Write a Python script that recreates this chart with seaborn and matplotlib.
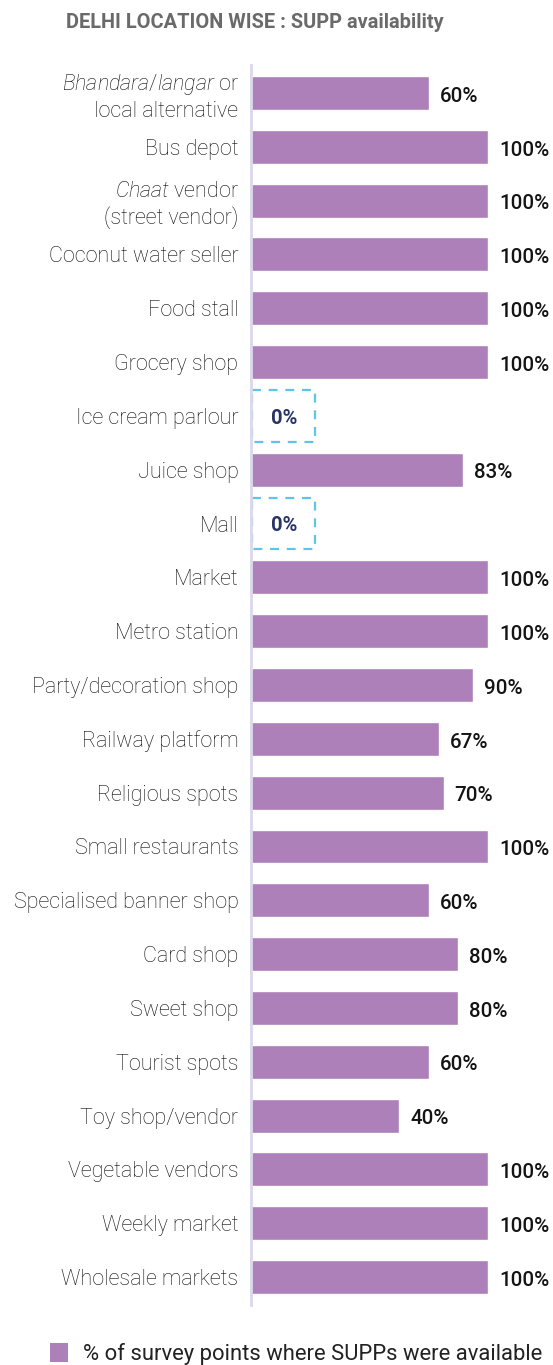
import matplotlib
matplotlib.use("Agg")
import matplotlib.pyplot as plt
from matplotlib.patches import Rectangle, Patch
import seaborn as sns
import pandas as pd

categories = [
    r"$\mathit{Bhandara/langar}$ or" + "\nlocal alternative",
    "Bus depot",
    r"$\mathit{Chaat}$ vendor" + "\n(street vendor)",
    "Coconut water seller",
    "Food stall",
    "Grocery shop",
    "Ice cream parlour",
    "Juice shop",
    "Mall",
    "Market",
    "Metro station",
    "Party/decoration shop",
    "Railway platform",
    "Religious spots",
    "Small restaurants",
    "Specialised banner shop",
    "Card shop",
    "Sweet shop",
    "Tourist spots",
    "Toy shop/vendor",
    "Vegetable vendors",
    "Weekly market",
    "Wholesale markets",
]
availability = [60, 100, 100, 100, 100, 100, 0, 83, 0, 100, 100, 90, 67, 70,
                100, 60, 80, 80, 60, 40, 100, 100, 100]

title = "DELHI LOCATION WISE : SUPP availability"
legend_label = "% of survey points where SUPPs were available"

BAR_COLOR = "#ad80b9"
BOX_COLOR = "#5ec5e8"
BASELINE = -60  # value scale begins left of zero

sns.set_theme(style="white")
plt.rcParams["font.family"] = ["Roboto", "DejaVu Sans"]
plt.rcParams["mathtext.fontset"] = "custom"
plt.rcParams["mathtext.rm"] = "Roboto:light"
plt.rcParams["mathtext.it"] = "Roboto:light:italic"

df = pd.DataFrame({"location": categories, "value": availability})
df["span"] = [v - BASELINE if v > 0 else 0 for v in df["value"]]

W, H = 553, 1365
fig = plt.figure(figsize=(W / 100, H / 100), dpi=100)
ax = fig.add_axes([251 / W, 1 - 1305 / H, (W - 251) / W, (1305 - 65) / H])

sns.barplot(data=df, x="span", y="location", orient="h", color=BAR_COLOR,
            saturation=1, width=0.63, ax=ax)

x_max = (W - 251) / ((488 - 251) / (100 - BASELINE))
ax.set_xlim(0, x_max)
ax.set_ylim(len(categories) - 0.48, -0.52)

for i, v in enumerate(df["value"]):
    if v > 0:
        ax.text(v - BASELINE + 7.5, i + 0.06, f"{v}%", va="center", ha="left",
                fontsize=14.8, fontweight="medium", color="#141414")
    else:
        ax.add_patch(Rectangle((0.8, i - 0.48), 42.5, 0.96, fill=False,
                               edgecolor=BOX_COLOR, linewidth=1.6,
                               linestyle=(0, (4, 3.5)), clip_on=False))
        ax.text(22.5, i + 0.04, f"{v}%", va="center", ha="center",
                fontsize=14.5, fontweight="bold", color="#283366")

ax.set_xlabel("")
ax.set_ylabel("")
ax.set_xticks([])
ax.tick_params(axis="y", length=0, pad=9, labelsize=15.5, labelcolor="#0c0c0c")
for lbl in ax.get_yticklabels():
    lbl.set_fontweight("light")
    lbl.set_horizontalalignment("right")
    lbl.set_multialignment("right")
for side in ["top", "right", "bottom"]:
    ax.spines[side].set_visible(False)
ax.spines["left"].set_color("#dcd7ec")
ax.spines["left"].set_linewidth(2)

fig.text(255 / W, 1 - 22 / H, title, ha="center", va="center",
         fontsize=14.4, fontweight="bold", color="#6a6a6a")

fig.legend(handles=[Patch(facecolor=BAR_COLOR, edgecolor="none")],
           labels=[legend_label], loc="center left",
           bbox_to_anchor=(30 / W, 1 - 1354 / H), frameon=False,
           handlelength=0.85, handleheight=0.95, handletextpad=0.65,
           prop={"size": 15.8}, labelcolor="#222222")

fig.savefig("out.png", dpi=100)
